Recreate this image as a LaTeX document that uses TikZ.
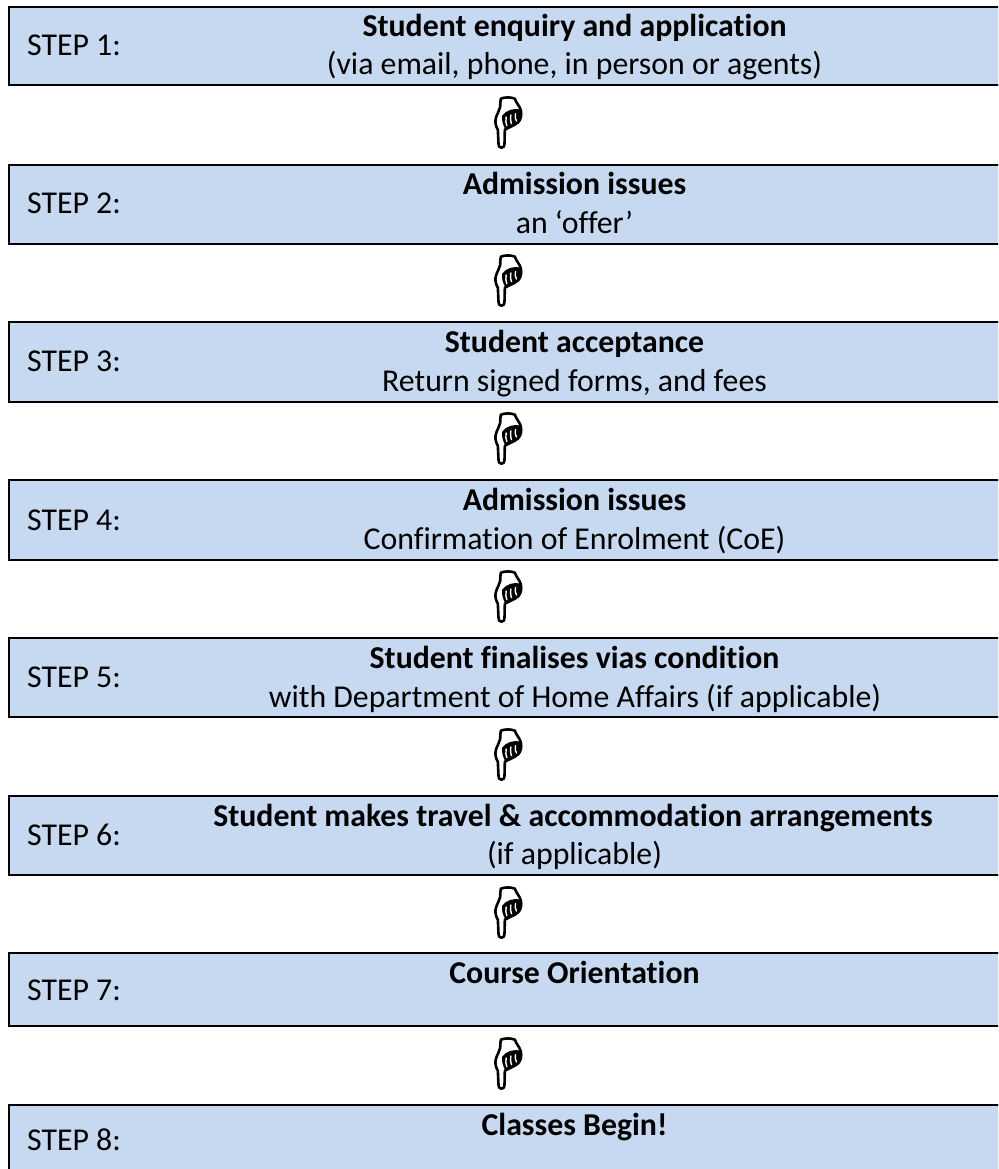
\documentclass[tikz,border=0pt]{standalone}
\usepackage{fontspec}
\setmainfont{Carlito}[Ligatures=CommonOff]
\tikzset{
  x=1pt,y=-1pt,
  stepbox/.style={draw=black,line width=2pt,fill=boxblue,rectangle,inner sep=0pt,anchor=north west,minimum width=1010pt},
  steplabel/.style={font=\fontsize{31.8}{38}\selectfont,anchor=base west,inner sep=0pt,text=black},
  titlelabel/.style={font=\fontsize{31.8}{38}\selectfont\bfseries,anchor=base,inner sep=0pt,text=black},
  sublabel/.style={font=\fontsize{31.8}{38}\selectfont,anchor=base,inner sep=0pt,text=black},
  hand/.pic={
    \begin{scope}[xscale=1/3,yscale=1/3,shift={(-122,-178)}]
      \draw[line width=2.6pt,fill=white,line join=round]
        (122,174) .. controls (115,174) and (113,170) .. (113,162)
        -- (111,120) .. controls (104,108) and (102,96) .. (105,86)
        .. controls (108,72) and (116,64) .. (118,52)
        .. controls (119,42) and (118,34) .. (120,27)
        .. controls (132,22) and (150,22) .. (162,27)
        .. controls (166,40) and (176,48) .. (180,62)
        .. controls (183,76) and (180,90) .. (172,98)
        .. controls (160,108) and (146,112) .. (132,120)
        -- (131,162) .. controls (131,170) and (129,174) .. (122,174) -- cycle;
      \fill[black] (124,78) .. controls (134,62) and (160,54) .. (180,60)
        .. controls (184,78) and (178,92) .. (170,99)
        .. controls (158,108) and (146,112) .. (134,120)
        .. controls (126,106) and (122,92) .. (124,78) -- cycle;
      \draw[white,line width=1.4pt,line cap=round]
        (136,82) .. controls (134,92) and (135,102) .. (138,108)
        (150,76) .. controls (148,86) and (149,96) .. (152,102)
        (164,72) .. controls (162,80) and (163,88) .. (167,94);
    \end{scope}
  }
}
\definecolor{boxblue}{HTML}{C6D9F0}
\begin{document}
\begin{tikzpicture}
\path[use as bounding box] (0,0) rectangle (998,1169);
\clip (0,0) rectangle (998,1169);
\fill[white] (0,0) rectangle (998,1169);
\node[stepbox,minimum height=78.5pt] (b1) at (8,6) {};
\node[stepbox,minimum height=78.5pt] (b2) at (8,164) {};
\node[stepbox,minimum height=79.3pt] (b3) at (8,321.3) {};
\node[stepbox,minimum height=79.3pt] (b4) at (8,479.3) {};
\node[stepbox,minimum height=78.7pt] (b5) at (8,637.3) {};
\node[stepbox,minimum height=79pt] (b6) at (8,795) {};
\node[stepbox,minimum height=73pt] (b7) at (8,952) {};
\node[stepbox,minimum height=90pt] (b8) at (8,1104) {};
\node[steplabel] (s1) at (27,56) {STEP 1:};
\node[steplabel] (s2) at (27,213) {STEP 2:};
\node[steplabel] (s3) at (27,371.5) {STEP 3:};
\node[steplabel] (s4) at (27,530) {STEP 4:};
\node[steplabel] (s5) at (27,687) {STEP 5:};
\node[steplabel] (s6) at (27,845) {STEP 6:};
\node[steplabel] (s7) at (27,1000) {STEP 7:};
\node[steplabel] (s8) at (27,1150) {STEP 8:};
\node[titlelabel] (t1) at (574.5,37) {Student enquiry and application};
\node[sublabel] (u1) at (574.5,75) {(via email, phone, in person or agents)};
\node[titlelabel] (t2) at (574.5,194.5) {Admission issues};
\node[sublabel] (u2) at (574.5,233.5) {an ‘offer’};
\node[titlelabel] (t3) at (574.5,352) {Student acceptance};
\node[sublabel] (u3) at (574.5,391.5) {Return signed forms, and fees};
\node[titlelabel] (t4) at (574.5,510) {Admission issues};
\node[sublabel] (u4) at (574.5,549) {Confirmation of Enrolment (CoE)};
\node[titlelabel] (t5) at (574.5,668) {Student finalises vias condition};
\node[sublabel] (u5) at (575,707) {with Department of Home Affairs (if applicable)};
\node[titlelabel] (t6) at (573,826) {Student makes travel \& accommodation arrangements};
\node[sublabel] (u6) at (574.5,864) {(if applicable)};
\node[titlelabel] (t7) at (574.5,983) {Course Orientation};
\node[titlelabel] (t8) at (574.5,1135) {Classes Begin!};
\foreach \yy in {149,307,465,623,781,939,1090}
  \pic at (501.5,\yy) {hand};
\end{tikzpicture}
\end{document}
